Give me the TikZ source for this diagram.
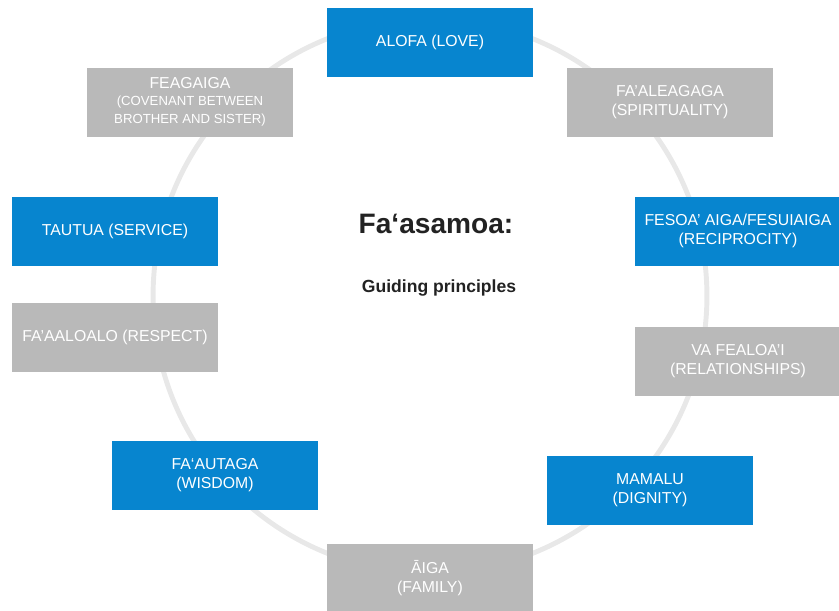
\documentclass[tikz,border=0pt]{standalone}
\usepackage{fontspec}
\setmainfont{Liberation Sans}
\definecolor{bleufonce}{HTML}{0785CF}
\definecolor{grisclair}{HTML}{B9B9B9}
\definecolor{gristrait}{HTML}{E8E8E8}
\definecolor{noirtitre}{HTML}{222222}
\begin{document}
\begin{tikzpicture}[x=0.02cm,y=-0.02cm]
		\tikzstyle{cercle}=[draw=gristrait,line width=2.8pt]
		\tikzstyle{valeur}=[minimum width=4.12cm,minimum height=1.38cm,inner sep=0pt,align=center,text=white,font=\fontsize{9}{10.5}\selectfont]
		\tikzstyle{bleu}=[valeur,fill=bleufonce]
		\tikzstyle{gris}=[valeur,fill=grisclair]
		\tikzstyle{titre}=[text=noirtitre,font=\bfseries\fontsize{16}{19}\selectfont]
		\tikzstyle{soustitre}=[text=noirtitre,font=\bfseries\fontsize{10}{12}\selectfont]
		
		\def\CentreX{430}
		\def\CentreY{296}
		\def\Rayon{5.54cm}
		\def\Petit{\fontsize{7.5}{9.6}\selectfont}
		
		\useasboundingbox (0,0) rectangle (839,610);
		
		\coordinate (C) at (\CentreX,\CentreY);
		\draw[cercle] (C) circle (\Rayon);
		
		\node[bleu] (Alofa) at (430,42) {ALOFA (LOVE)};
		\node[gris] (Feagaiga) at (190,102) {FEAGAIGA\\[-1pt]\Petit(COVENANT BETWEEN\\\Petit BROTHER AND SISTER)};
		\node[gris] (Faaleagaga) at (670,102) {FA’ALEAGAGA\\(SPIRITUALITY)};
		\node[bleu] (Tautua) at (115,231) {TAUTUA (SERVICE)};
		\node[bleu] (Fesoa) at (738,231) {FESOA’ AIGA/FESUIAIGA\\(RECIPROCITY)};
		\node[gris] (Faaaloalo) at (115,337) {FA’AALOALO (RESPECT)};
		\node[gris] (Vafealoai) at (738,361) {VA FEALOA’I\\(RELATIONSHIPS)};
		\node[bleu] (Faautaga) at (215,475) {FA‘AUTAGA\\(WISDOM)};
		\node[bleu] (Mamalu) at (650,490) {MAMALU\\(DIGNITY)};
		\node[gris] (Aiga) at (430,578) {ĀIGA\\(FAMILY)};
		
		\node[titre] (Titre) at (436,224) {Fa‘asamoa:};
		\node[soustitre] (SousTitre) at (439,288) {Guiding principles};
		\end{tikzpicture}
\end{document}
